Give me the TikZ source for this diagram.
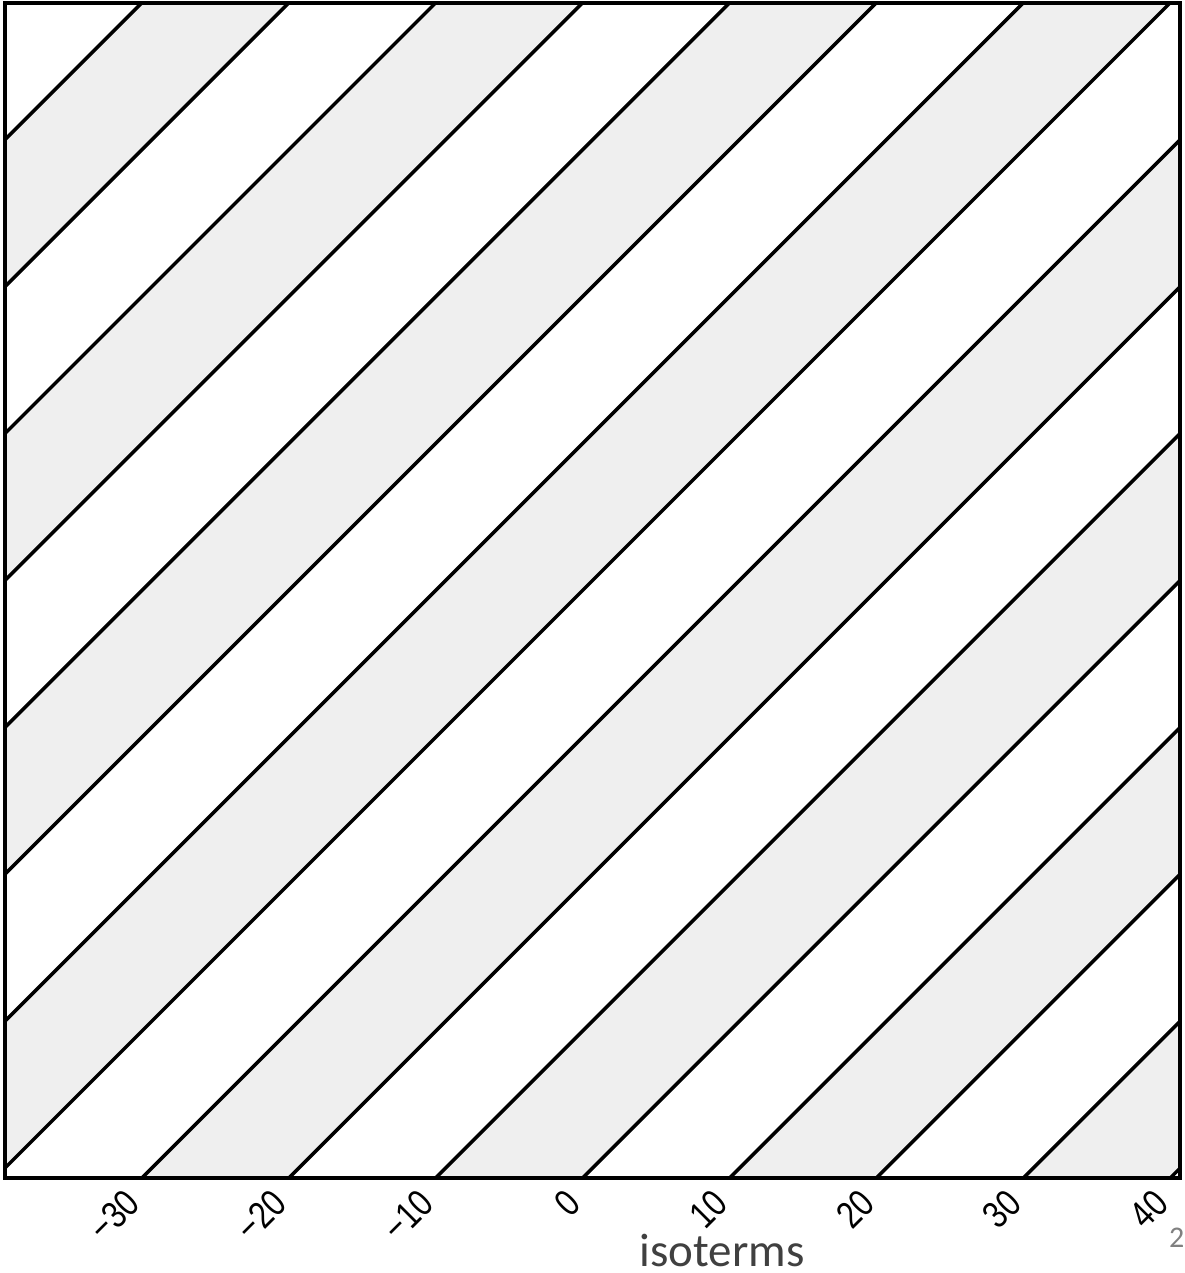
\documentclass[tikz,border=0pt]{standalone}
\usepackage{fontspec}
\setmainfont{Liberation Sans}
\newfontfamily\calib{Carlito}
\definecolor{bandgray}{HTML}{EFEFEF}
\definecolor{txtgray}{HTML}{404040}
\definecolor{pggray}{HTML}{808080}
\begin{document}
\begin{tikzpicture}[x=1pt,y=-1pt,
  isoline/.style={line width=3.5pt},
  frame/.style={line width=4pt,line join=miter},
  ticklab/.style={rotate=45,anchor=east,inner sep=0pt,font=\fontsize{38}{40}\selectfont},
]
\useasboundingbox (0,0) rectangle (1184,1273);
\fill[white] (0,0) rectangle (1184,1273);
\begin{scope}
  \clip (5,3) rectangle (1180,1178);
  \foreach \k in {-7,-5,...,7}{
    \pgfmathsetmacro{\ca}{5-10+146.9*\k}
    \pgfmathsetmacro{\cb}{5-10+146.9*(\k+1)}
    \fill[bandgray] (\ca,1178) -- (\cb,1178) -- (\cb+1300,1178-1300) -- (\ca+1300,1178-1300) -- cycle;
  }
  \foreach \k in {-8,...,8}{
    \pgfmathsetmacro{\ca}{5-10+146.9*\k}
    \draw[isoline] (\ca,1178) -- (\ca+1300,1178-1300);
  }
\end{scope}
\draw[frame] (5,3) rectangle (1180,1178);
\foreach \v [count=\i from 1] in {−30,−20,−10,0,10,20,30,40}{
  \pgfmathsetmacro{\xx}{5-10+146.9*\i-9}
  \node[ticklab] (lab\i) at (\xx,1197) {\scalebox{0.82}[1]{\v}};
}
\node[anchor=base,inner sep=0pt,text=txtgray,font=\calib\fontsize{47}{50}\selectfont] (title) at (722,1266) {isoterms};
\node[anchor=west,inner sep=0pt,text=pggray,font=\calib\fontsize{30}{32}\selectfont] (pg) at (1169,1238) {2};
\end{tikzpicture}
\end{document}
